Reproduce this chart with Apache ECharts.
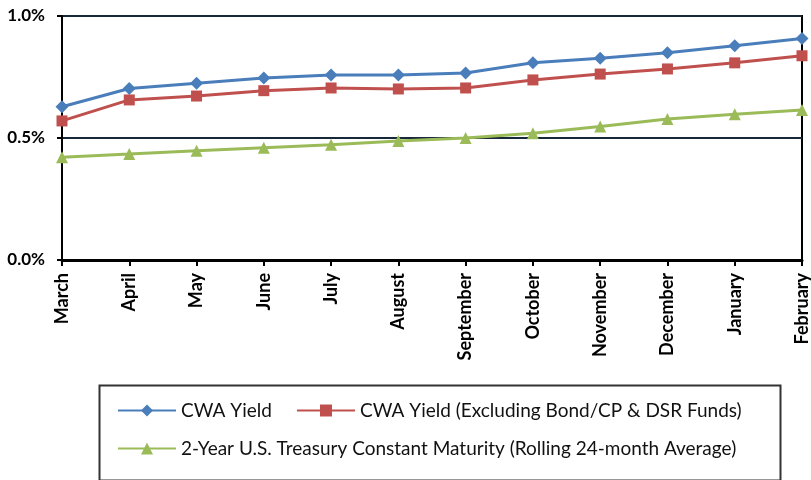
<!DOCTYPE html>
<html>
<head>
<meta charset="utf-8">
<script src="https://cdn.jsdelivr.net/npm/echarts@6/dist/echarts.min.js"></script>
<style>
  html, body { margin: 0; padding: 0; background: #fff; }
  #chart { width: 811px; height: 480px; }
</style>
</head>
<body>
<div id="chart"></div>
<script>
// months on the x axis
var months = ['March', 'April', 'May', 'June', 'July', 'August', 'September',
  'October', 'November', 'December', 'January', 'February'];

// yields, in percent
var cwaYield = [0.628, 0.703, 0.724, 0.746, 0.758, 0.758, 0.766, 0.808, 0.827, 0.849, 0.878, 0.908];
var cwaYieldExcl = [0.570, 0.656, 0.672, 0.694, 0.705, 0.701, 0.705, 0.738, 0.762, 0.783, 0.808, 0.837];
var treasury2y = [0.421, 0.434, 0.448, 0.460, 0.472, 0.488, 0.500, 0.519, 0.547, 0.578, 0.597, 0.615];

var yTicks = [0, 0.5, 1.0];

var seriesNames = ['CWA Yield', 'CWA Yield (Excluding Bond/CP & DSR Funds)',
  '2-Year U.S. Treasury Constant Maturity (Rolling 24-month Average)'];

var font = 'Lato, "Open Sans", sans-serif';

var myChart = echarts.init(document.getElementById('chart'));

// one legend per item so each can sit where the original has it
function legendItem(name, left, top) {
  return {
    left: left,
    top: top,
    padding: 0,
    itemWidth: 58,
    itemHeight: 15,
    itemGap: 0,
    textStyle: { fontFamily: font, fontSize: 19, color: '#111' },
    data: [name]
  };
}

var option = {
  animation: false,
  backgroundColor: '#fff',
  grid: {
    left: 62,
    right: 5,
    top: 16,
    bottom: 220,
    show: true,
    borderColor: '#000',
    borderWidth: 2
  },
  xAxis: {
    type: 'category',
    boundaryGap: false,
    data: months,
    axisLine: { lineStyle: { color: '#000', width: 3 } },
    axisTick: { show: true, alignWithLabel: true, length: 6, lineStyle: { color: '#000', width: 2 } },
    axisLabel: {
      interval: 0,
      rotate: 90,
      margin: 13,
      color: '#000',
      fontFamily: font,
      fontWeight: 'bold',
      fontSize: 18
    }
  },
  yAxis: {
    type: 'value',
    min: yTicks[0],
    max: yTicks[yTicks.length - 1],
    interval: 0.5,
    axisLine: { show: true, lineStyle: { color: '#000', width: 2 } },
    axisTick: { show: true, length: 5, lineStyle: { color: '#000', width: 2 } },
    axisLabel: {
      margin: 17,
      color: '#000',
      fontFamily: font,
      fontWeight: 'bold',
      fontSize: 17,
      formatter: function (v) { return v.toFixed(1) + '%'; }
    },
    splitLine: { show: true, lineStyle: { color: '#16283a', width: 2 } }
  },
  legend: [
    legendItem(seriesNames[0], 117, 401),
    legendItem(seriesNames[1], 296, 401),
    legendItem(seriesNames[2], 117, 439)
  ],
  graphic: [
    {
      type: 'rect',
      left: 97,
      top: 383,
      shape: { width: 681, height: 95 },
      style: { fill: 'none', stroke: '#333', lineWidth: 2 },
      z: 0
    }
  ],
  series: [
    {
      name: seriesNames[0],
      type: 'line',
      data: cwaYield,
      symbol: 'diamond',
      symbolSize: 13,
      itemStyle: { color: '#4a7ebb' },
      lineStyle: { color: '#4a7ebb', width: 3 }
    },
    {
      name: seriesNames[1],
      type: 'line',
      data: cwaYieldExcl,
      symbol: 'rect',
      symbolSize: 11,
      itemStyle: { color: '#c0504d' },
      lineStyle: { color: '#c0504d', width: 3 }
    },
    {
      name: seriesNames[2],
      type: 'line',
      data: treasury2y,
      symbol: 'triangle',
      symbolSize: 12,
      itemStyle: { color: '#9bbb59' },
      lineStyle: { color: '#9bbb59', width: 3 }
    }
  ]
};

myChart.setOption(option);
</script>
</body>
</html>
